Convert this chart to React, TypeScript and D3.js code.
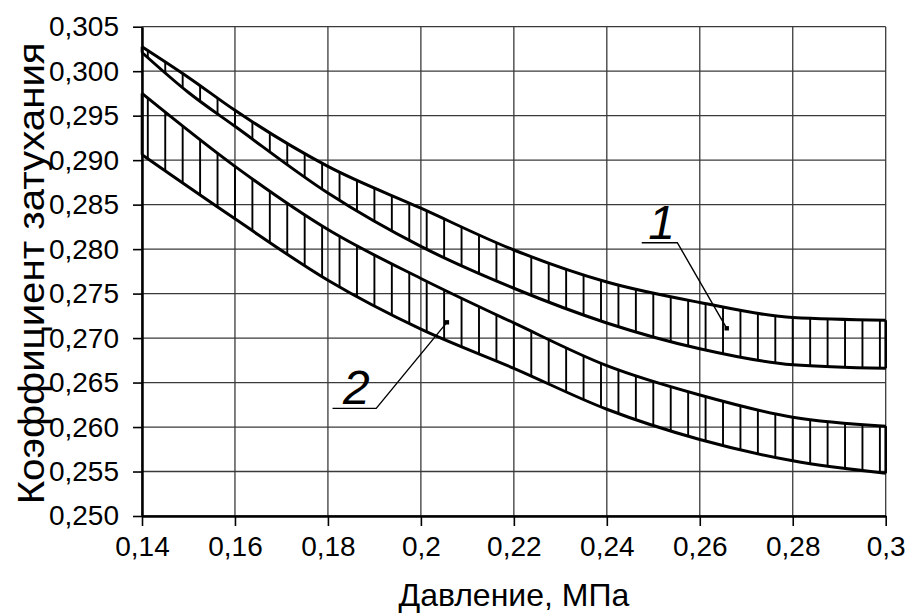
import React, { useEffect, useRef } from "react";
import * as d3 from "d3";

// Band 1: upper and lower boundary of the attenuation coefficient
const pressure1 = [0.14, 0.15, 0.16, 0.18, 0.2, 0.22, 0.24, 0.26, 0.28, 0.3];
const band1Upper = [0.30275, 0.2993, 0.2956, 0.2893, 0.2846, 0.2799, 0.2763, 0.274, 0.2723, 0.272];
const band1Lower = [0.3021, 0.2976, 0.2938, 0.2863, 0.2803, 0.2756, 0.2717, 0.2688, 0.267, 0.2666];

// Band 2
const pressure2 = [0.14, 0.16, 0.18, 0.2, 0.22, 0.24, 0.26, 0.28, 0.3];
const band2Upper = [0.2975, 0.2893, 0.2822, 0.2767, 0.2717, 0.2669, 0.2636, 0.2611, 0.2601];
const band2Lower = [0.2906, 0.2834, 0.2765, 0.271, 0.2666, 0.262, 0.2586, 0.2562, 0.2548];

const xTicks = [0.14, 0.16, 0.18, 0.2, 0.22, 0.24, 0.26, 0.28, 0.3];
const xTickLabels = ["0,14", "0,16", "0,18", "0,2", "0,22", "0,24", "0,26", "0,28", "0,3"];
const yTicks = [0.25, 0.255, 0.26, 0.265, 0.27, 0.275, 0.28, 0.285, 0.29, 0.295, 0.3, 0.305];
const yTickLabels = ["0,250", "0,255", "0,260", "0,265", "0,270", "0,275", "0,280", "0,285", "0,290", "0,295", "0,300", "0,305"];

// Callout labels: point inside the band, and the label text
const calloutNames = ["1", "2"];
const calloutX = [0.2658, 0.2056];
const calloutY = [0.2711, 0.27177];

const xTitle = "Давление, МПа";
const yTitle = "Коэффициент затухания";

const W = 907;
const H = 616;
const FONT = "'Liberation Sans', Arial, sans-serif";

export default function App() {
  const xAxisRef = useRef<SVGGElement>(null);
  const yAxisRef = useRef<SVGGElement>(null);

  const x = d3.scaleLinear().domain([0.14, 0.3]).range([142, 885.7]);
  const y = d3.scaleLinear().domain([0.25, 0.305]).range([516, 26.7]);
  const [x0, x1] = x.range();
  const [yb, yt] = y.range();

  const line = d3
    .line<[number, number]>()
    .x((d) => x(d[0]))
    .y((d) => y(d[1]))
    .curve(d3.curveMonotoneX);

  const area = d3
    .area<[number, number, number]>()
    .x((d) => x(d[0]))
    .y0((d) => y(d[1]))
    .y1((d) => y(d[2]))
    .curve(d3.curveMonotoneX);

  const bands = [
    { id: "b1", xs: pressure1, up: band1Upper, lo: band1Lower },
    { id: "b2", xs: pressure2, up: band2Upper, lo: band2Lower },
  ];

  // vertical hatching positions
  const hatchStart = 0.14125;
  const hatchStep = 0.00375;
  const hatch: number[] = [];
  for (let v = hatchStart; v < 0.3; v += hatchStep) hatch.push(v);

  useEffect(() => {
    const gx = d3.select(xAxisRef.current!);
    gx.call(
      d3
        .axisBottom(x)
        .tickValues(xTicks)
        .tickSize(10)
        .tickSizeOuter(0)
        .tickPadding(10)
        .tickFormat((_, i) => xTickLabels[i])
    );
    gx.attr("font-size", 28).attr("font-family", FONT);
    gx.select(".domain").attr("stroke", "#000").attr("stroke-width", 2.5);
    gx.selectAll(".tick line").attr("stroke", "#000").attr("stroke-width", 1.6);
    gx.selectAll(".tick text").attr("fill", "#000");

    const gy = d3.select(yAxisRef.current!);
    gy.call(
      d3
        .axisLeft(y)
        .tickValues(yTicks)
        .tickSize(9)
        .tickSizeOuter(0)
        .tickPadding(14)
        .tickFormat((_, i) => yTickLabels[i])
    );
    gy.attr("font-size", 28).attr("font-family", FONT);
    gy.select(".domain").attr("stroke", "#000").attr("stroke-width", 2.5);
    gy.selectAll(".tick line").attr("stroke", "#000").attr("stroke-width", 1.6);
    gy.selectAll(".tick text").attr("fill", "#000");
  }, []);

  return (
    <div style={{ position: "absolute", left: 0, top: 0 }}>
      <svg width={W} height={H} style={{ display: "block", background: "#fff" }}>
        <defs>
          {bands.map((b) => (
            <clipPath id={`clip-${b.id}`} key={b.id}>
              <path d={area(b.xs.map((v, i) => [v, b.lo[i], b.up[i]] as [number, number, number])) || ""} />
            </clipPath>
          ))}
        </defs>

        {/* grid */}
        <g stroke="#3a3a3a" strokeWidth={1.3}>
          {yTicks.map((t) => (
            <line key={`gy${t}`} x1={x0} x2={x1} y1={y(t)} y2={y(t)} />
          ))}
          {xTicks.map((t) => (
            <line key={`gx${t}`} x1={x(t)} x2={x(t)} y1={yt} y2={yb} />
          ))}
        </g>

        {/* hatched bands */}
        {bands.map((b) => (
          <g key={b.id}>
            <g clipPath={`url(#clip-${b.id})`} stroke="#000" strokeWidth={1.9}>
              {hatch.map((h) => (
                <line key={h} x1={x(h)} x2={x(h)} y1={yt} y2={yb} />
              ))}
            </g>
            <path
              d={line(b.xs.map((v, i) => [v, b.up[i]] as [number, number])) || ""}
              fill="none"
              stroke="#000"
              strokeWidth={3}
            />
            <path
              d={line(b.xs.map((v, i) => [v, b.lo[i]] as [number, number])) || ""}
              fill="none"
              stroke="#000"
              strokeWidth={3}
            />
            <line
              x1={x(b.xs[b.xs.length - 1])}
              x2={x(b.xs[b.xs.length - 1])}
              y1={y(b.up[b.up.length - 1])}
              y2={y(b.lo[b.lo.length - 1])}
              stroke="#000"
              strokeWidth={2.6}
            />
            <line
              x1={x(b.xs[0])}
              x2={x(b.xs[0])}
              y1={y(b.up[0])}
              y2={y(b.lo[0])}
              stroke="#000"
              strokeWidth={2.6}
            />
          </g>
        ))}

        {/* callouts */}
        {calloutNames.map((name, i) => {
          const px = x(calloutX[i]);
          const py = y(calloutY[i]);
          const elbow = i === 0 ? [px - 49.4, py - 85.6] : [px - 70.7, py + 86];
          const shelf = i === 0 ? 35.6 : 43.7;
          return (
            <g key={name}>
              <polyline
                points={`${px},${py} ${elbow[0]},${elbow[1]} ${elbow[0] - shelf},${elbow[1]}`}
                fill="none"
                stroke="#000"
                strokeWidth={1.4}
              />
              <rect x={px - 2.2} y={py - 2.2} width={4.4} height={4.4} fill="#000" />
              <text
                x={elbow[0] - shelf / 2 + 2}
                y={elbow[1] - 4}
                textAnchor="middle"
                fontFamily={FONT}
                fontStyle="italic"
                fontSize={48}
                fill="#000"
              >
                {name}
              </text>
            </g>
          );
        })}

        <g ref={xAxisRef} transform={`translate(0,${yb})`} />
        <g ref={yAxisRef} transform={`translate(${x0},0)`} />

        <text
          x={(x0 + x1) / 2}
          y={606}
          textAnchor="middle"
          fontFamily={FONT}
          fontSize={32}
          fill="#000"
        >
          {xTitle}
        </text>
        <text
          transform={`translate(44,${(yb + yt) / 2 + 2}) rotate(-90)`}
          textAnchor="middle"
          fontFamily={FONT}
          fontSize={37}
          textLength={462}
          lengthAdjust="spacingAndGlyphs"
          fill="#000"
        >
          {yTitle}
        </text>
      </svg>
    </div>
  );
}
